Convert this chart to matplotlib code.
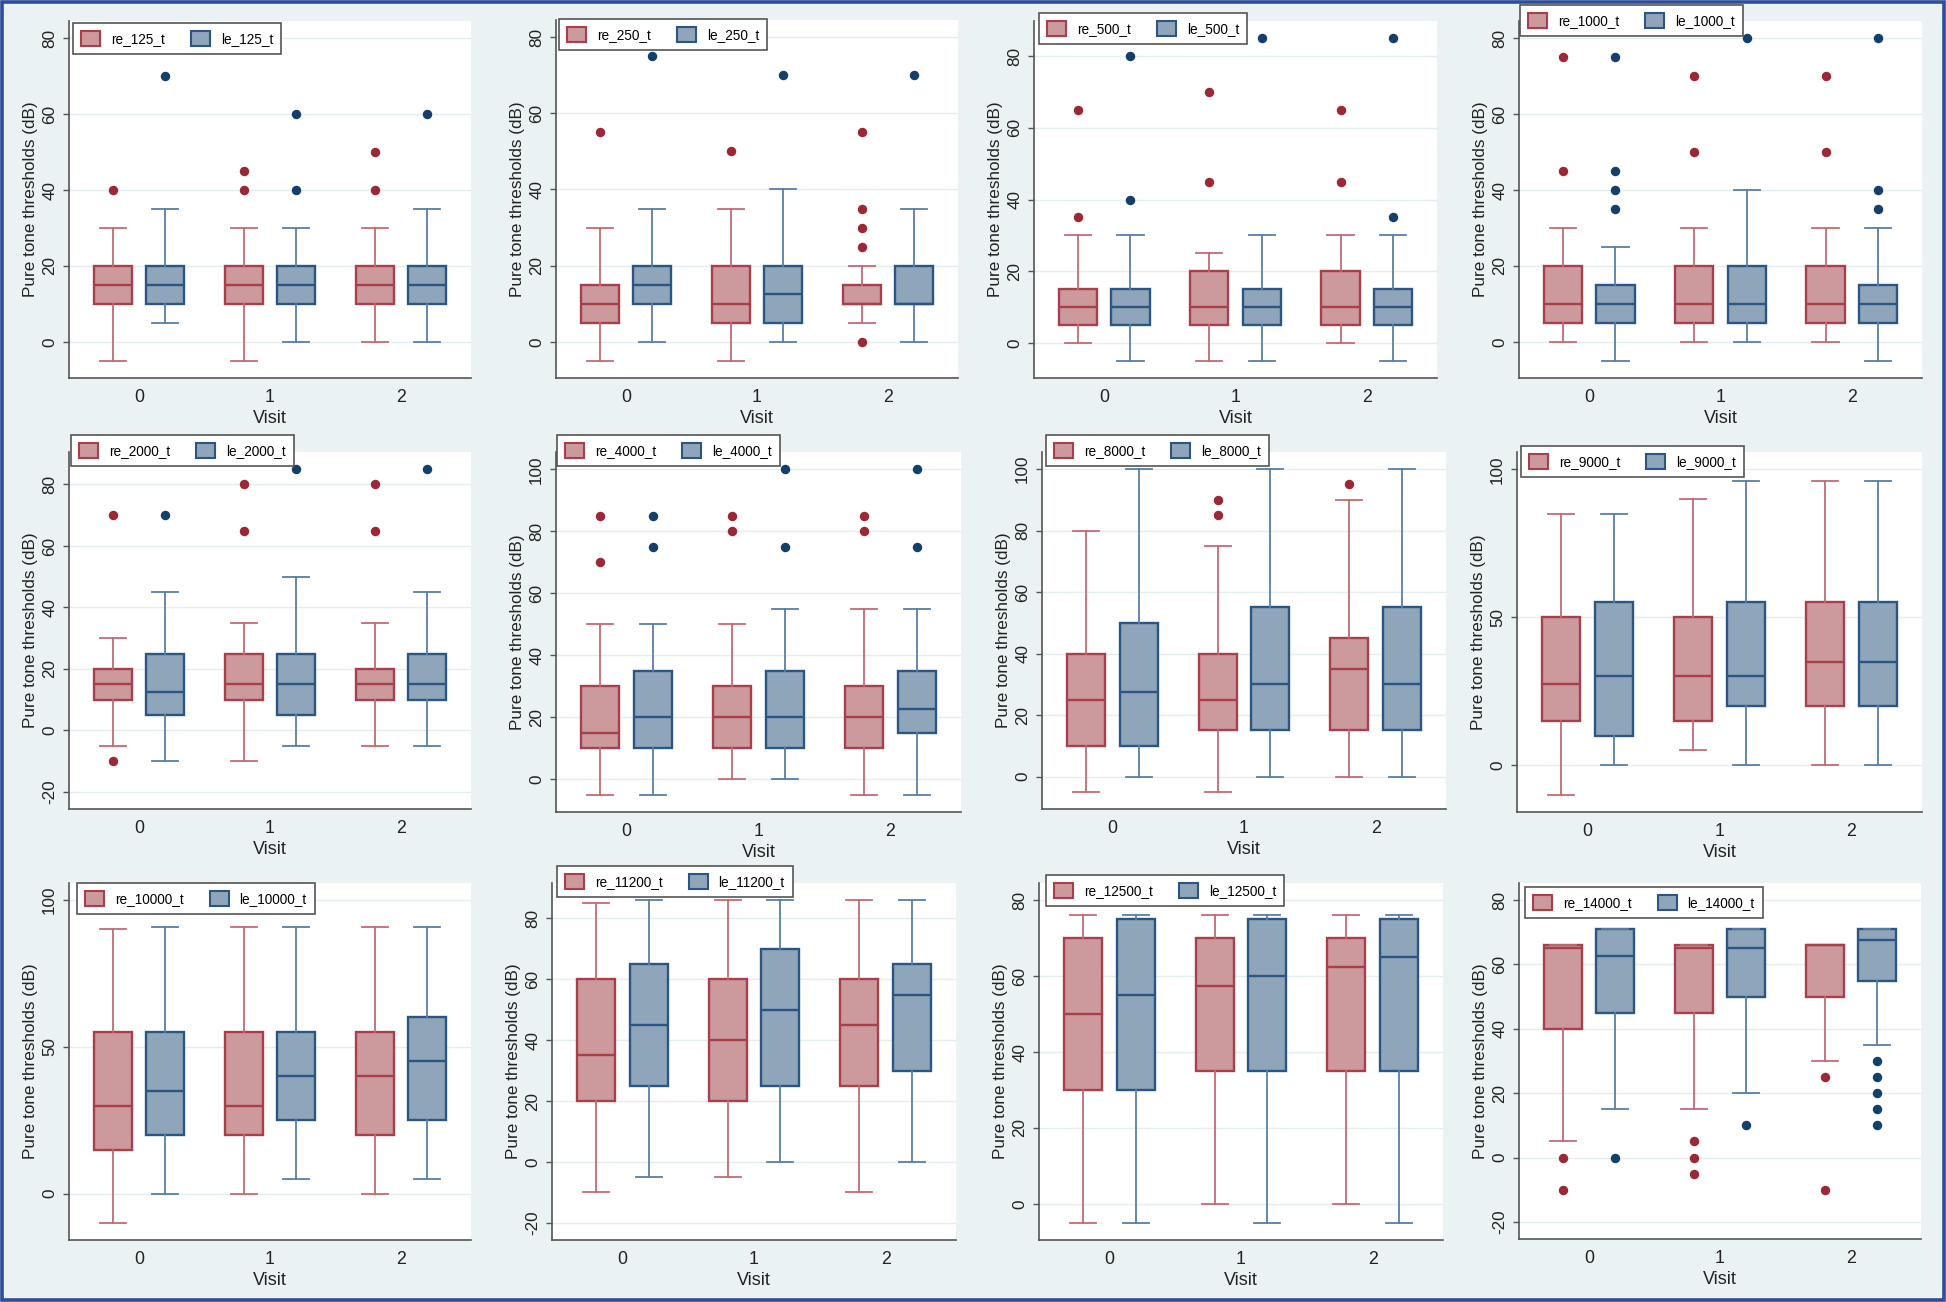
import matplotlib
matplotlib.use('Agg')
import matplotlib.pyplot as plt
from matplotlib.patches import Patch, Rectangle

plt.rcParams['font.family'] = ['Liberation Sans', 'DejaVu Sans']
plt.rcParams['axes.unicode_minus'] = False

visits = [0, 1, 2]

# each visit: (lower whisker, q1, median, q3, upper whisker, outliers)
re_125 = [(-5, 10, 15, 20, 30, [40]), (-5, 10, 15, 20, 30, [40, 45]), (0, 10, 15, 20, 30, [40, 50])]
le_125 = [(5, 10, 15, 20, 35, [70]), (0, 10, 15, 20, 30, [40, 60]), (0, 10, 15, 20, 35, [60])]

re_250 = [(-5, 5, 10, 15, 30, [55]), (-5, 5, 10, 20, 35, [50]), (5, 10, 10, 15, 20, [0, 25, 30, 35, 55])]
le_250 = [(0, 10, 15, 20, 35, [75]), (0, 5, 12.5, 20, 40, [70]), (0, 10, 10, 20, 35, [70])]

re_500 = [(0, 5, 10, 15, 30, [35, 65]), (-5, 5, 10, 20, 25, [45, 70]), (0, 5, 10, 20, 30, [45, 65])]
le_500 = [(-5, 5, 10, 15, 30, [40, 80]), (-5, 5, 10, 15, 30, [85]), (-5, 5, 10, 15, 30, [35, 85])]

re_1000 = [(0, 5, 10, 20, 30, [45, 75]), (0, 5, 10, 20, 30, [50, 70]), (0, 5, 10, 20, 30, [50, 70])]
le_1000 = [(-5, 5, 10, 15, 25, [35, 40, 45, 75]), (0, 5, 10, 20, 40, [80]), (-5, 5, 10, 15, 30, [35, 40, 80])]

re_2000 = [(-5, 10, 15, 20, 30, [-10, 70]), (-10, 10, 15, 25, 35, [65, 80]), (-5, 10, 15, 20, 35, [65, 80])]
le_2000 = [(-10, 5, 12.5, 25, 45, [70]), (-5, 5, 15, 25, 50, [85]), (-5, 10, 15, 25, 45, [85])]

re_4000 = [(-5, 10, 15, 30, 50, [70, 85]), (0, 10, 20, 30, 50, [80, 85]), (-5, 10, 20, 30, 55, [80, 85])]
le_4000 = [(-5, 10, 20, 35, 50, [75, 85]), (0, 10, 20, 35, 55, [75, 100]), (-5, 15, 22.5, 35, 55, [75, 100])]

re_8000 = [(-5, 10, 25, 40, 80, []), (-5, 15, 25, 40, 75, [85, 90]), (0, 15, 35, 45, 90, [95])]
le_8000 = [(0, 10, 27.5, 50, 100, []), (0, 15, 30, 55, 100, []), (0, 15, 30, 55, 100, [])]

re_9000 = [(-10, 15, 27.5, 50, 85, []), (5, 15, 30, 50, 90, []), (0, 20, 35, 55, 96, [])]
le_9000 = [(0, 10, 30, 55, 85, []), (0, 20, 30, 55, 96, []), (0, 20, 35, 55, 96, [])]

re_10000 = [(-10, 15, 30, 55, 90, []), (0, 20, 30, 55, 91, []), (0, 20, 40, 55, 91, [])]
le_10000 = [(0, 20, 35, 55, 91, []), (5, 25, 40, 55, 91, []), (5, 25, 45, 60, 91, [])]

re_11200 = [(-10, 20, 35, 60, 85, []), (-5, 20, 40, 60, 86, []), (-10, 25, 45, 60, 86, [])]
le_11200 = [(-5, 25, 45, 65, 86, []), (0, 25, 50, 70, 86, []), (0, 30, 55, 65, 86, [])]

re_12500 = [(-5, 30, 50, 70, 76, []), (0, 35, 57.5, 70, 76, []), (0, 35, 62.5, 70, 76, [])]
le_12500 = [(-5, 30, 55, 75, 76, []), (-5, 35, 60, 75, 76, []), (-5, 35, 65, 75, 76, [])]

re_14000 = [(5, 40, 65, 66, 66, [-10, 0]), (15, 45, 65, 66, 66, [-5, 0, 5]), (30, 50, 66, 66, 66, [-10, 25])]
le_14000 = [(15, 45, 62.5, 71, 71, [0]), (20, 50, 65, 71, 71, [10]), (35, 55, 67.5, 71, 71, [10, 15, 20, 25, 30])]

freqs = [125, 250, 500, 1000, 2000, 4000, 8000, 9000, 10000, 11200, 12500, 14000]
re_all = [re_125, re_250, re_500, re_1000, re_2000, re_4000, re_8000, re_9000, re_10000, re_11200, re_12500, re_14000]
le_all = [le_125, le_250, le_500, le_1000, le_2000, le_4000, le_8000, le_9000, le_10000, le_11200, le_12500, le_14000]
yticks = [[0, 20, 40, 60, 80]] * 4 + [[-20, 0, 20, 40, 60, 80], [0, 20, 40, 60, 80, 100], [0, 20, 40, 60, 80, 100],
                                      [0, 50, 100], [0, 50, 100], [-20, 0, 20, 40, 60, 80], [0, 20, 40, 60, 80],
                                      [-20, 0, 20, 40, 60, 80]]

# layout in pixels: axes (left, top, right, bottom) and legend upper-left corner
W, H = 1946, 1302
axes_px = [(69, 21, 471, 378), (556, 20, 958, 378), (1034, 21, 1437, 378), (1519, 21, 1922, 378),
           (69, 452, 471, 809), (556, 452, 961, 812), (1042, 452, 1446, 809), (1517, 452, 1922, 812),
           (69, 883, 471, 1240), (552, 883, 956, 1240), (1039, 883, 1443, 1240), (1519, 883, 1921, 1239)]
legend_px = [(73, 23), (559, 19), (1039, 13), (1520, 5),
             (71, 435), (557, 435), (1046, 435), (1521, 446),
             (77, 883), (557, 866), (1046, 875), (1525, 887)]

red = dict(fc='#CC999D', ec='#A8404C', wc='#C26A74', oc='#9B2834')
blue = dict(fc='#8FA5BA', ec='#2B5683', wc='#587FA5', oc='#153F6B')

fig = plt.figure(figsize=(W / 100, H / 100), dpi=100, facecolor='#EAF2F3')

for i, f in enumerate(freqs):
    l, t, r, b = axes_px[i]
    ax = fig.add_axes([l / W, 1 - b / H, (r - l) / W, (b - t) / H])
    ax.set_facecolor('white')

    lo_all, hi_all = [], []
    for ear, off, c in ((re_all[i], -0.2, red), (le_all[i], 0.2, blue)):
        st = [dict(whislo=v[0], q1=v[1], med=v[2], q3=v[3], whishi=v[4], fliers=v[5]) for v in ear]
        lo_all += [min([v[0]] + v[5]) for v in ear]
        hi_all += [max([v[4]] + v[5]) for v in ear]
        ax.bxp(st, positions=[x + off for x in visits], widths=0.29, capwidths=0.2,
               patch_artist=True, manage_ticks=False,
               boxprops=dict(facecolor=c['fc'], edgecolor=c['ec'], linewidth=1.7),
               medianprops=dict(color=c['ec'], linewidth=1.7),
               whiskerprops=dict(color=c['wc'], linewidth=1.3),
               capprops=dict(color=c['wc'], linewidth=1.3),
               flierprops=dict(marker='o', markerfacecolor=c['oc'], markeredgecolor=c['oc'],
                               markersize=5.8, linestyle='none'))

    tk = yticks[i]
    lo = min(tk[0], min(lo_all))
    hi = max(tk[-1], max(hi_all))
    m = 0.053 * (hi - lo)
    ax.set_ylim(lo - m, hi + m)
    ax.set_xlim(-0.535, 2.535)
    ax.set_yticks(tk)
    ax.set_xticks(visits)
    ax.set_xticklabels([str(v) for v in visits])

    ax.yaxis.grid(True, color='#E4EDEF', linewidth=1.0)
    ax.set_axisbelow(True)
    for s in ('top', 'right'):
        ax.spines[s].set_visible(False)
    for s in ('left', 'bottom'):
        ax.spines[s].set_color('#555555')
        ax.spines[s].set_linewidth(1.2)
    ax.tick_params(axis='y', length=4.5, width=1.0, color='#555555', pad=4, labelsize=12.3,
                   labelcolor='#222222', labelrotation=90)
    for lab in ax.get_yticklabels():
        lab.set_va('center')
    ax.tick_params(axis='x', length=0, pad=8, labelsize=12.8, labelcolor='#222222')
    ax.set_ylabel('Pure tone thresholds (dB)', fontsize=12.3, color='#222222', labelpad=3)
    ax.set_xlabel('Visit', fontsize=13, color='#222222', labelpad=3)

    handles = [Patch(facecolor=red['fc'], edgecolor=red['ec'], linewidth=1.5, label='re_%d_t' % f),
               Patch(facecolor=blue['fc'], edgecolor=blue['ec'], linewidth=1.5, label='le_%d_t' % f)]
    lx, ly = legend_px[i]
    leg = ax.legend(handles=handles, ncol=2, loc='upper left',
                    bbox_to_anchor=(lx / W, 1 - ly / H), bbox_transform=fig.transFigure,
                    borderaxespad=0, fancybox=False, framealpha=1, edgecolor='#555555',
                    fontsize=9.8, handlelength=1.4, handleheight=1.3, handletextpad=0.8,
                    columnspacing=1.9, borderpad=0.6)
    leg.get_frame().set_linewidth(1.2)
    leg.set_zorder(10)

fig.patches.append(Rectangle((0.0012, 0.0015), 0.9976, 0.997, transform=fig.transFigure,
                             fill=False, edgecolor='#2E4C9C', linewidth=2.6))

fig.savefig('out.png', dpi=100, facecolor=fig.get_facecolor())
